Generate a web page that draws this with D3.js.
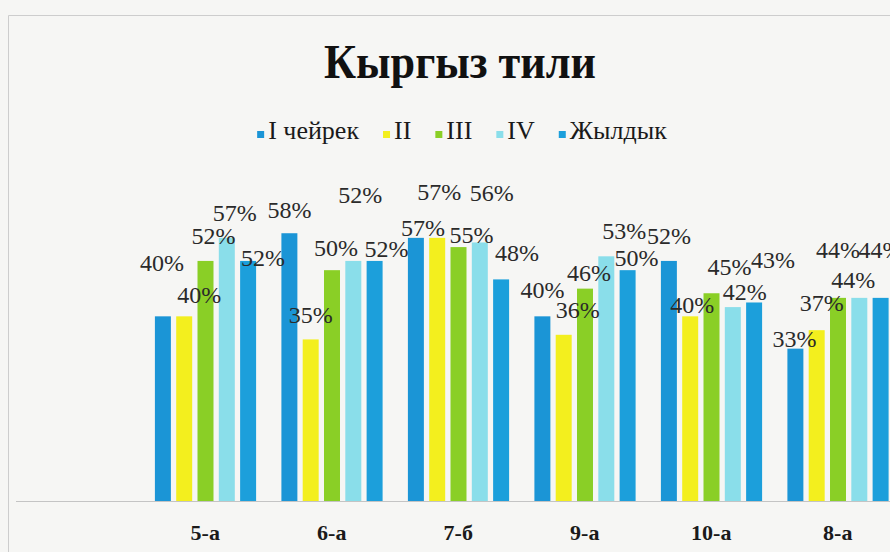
<!DOCTYPE html>
<html>
<head>
<meta charset="utf-8">
<script src="https://cdn.jsdelivr.net/npm/d3@7"></script>
<style>
  html, body { margin: 0; padding: 0; background: #f6f6f4; overflow: hidden; }
  svg { display: block; }
  text { font-family: "Liberation Serif", "DejaVu Serif", serif; }
</style>
</head>
<body>
<svg id="chart" width="890" height="552"></svg>
<script>
// Class groups and quarterly results (percent)
const categories = ["5-а", "6-а", "7-б", "9-а", "10-а", "8-а"];
const seriesNames = ["I чейрек", "II", "III", "IV", "Жылдык"];
const quarterI   = [40, 58, 57, 40, 52, 33];
const quarterII  = [40, 35, 57, 36, 40, 37];
const quarterIII = [52, 50, 55, 46, 45, 44];
const quarterIV  = [57, 52, 56, 53, 42, 44];
const annual     = [52, 52, 48, 50, 43, 44];
const seriesValues = [quarterI, quarterII, quarterIII, quarterIV, annual];

const colors = ["#1b95d6", "#f3ef1e", "#8acf26", "#8adeea", "#1c9fdb"];
const serif = "'Liberation Serif', 'DejaVu Serif', serif";

// Hand-placed data label nudges [dx, dy] from the top-centre of each bar
const labelNudge = [
  [[-1, -53], [0, -23], [7, -10], [0, -26], [0, -25], [-1, -10]],
  [[15, -21], [0, -24], [2, -46], [14, -25], [2, -11], [5, -27]],
  [[8, -25], [4, -22], [13, -12], [4, -16], [18, -26], [0, -48]],
  [[8, -25], [7, -66], [12, -49], [18, -25], [12, -15], [-6, -18]],
  [[15, -3], [12, -12], [16, -26], [9, -12], [19, -42], [0, -48]]
];

const svg = d3.select("#chart");
const W = 890, H = 552;
const baseY = 501;

// outer frame
svg.append("path")
  .attr("d", `M8.5,${H} V15.5 H${W}`)
  .attr("fill", "none")
  .attr("stroke", "#cdcdcd")
  .attr("stroke-width", 1);

// title
svg.append("text")
  .attr("x", 460).attr("y", 78)
  .attr("text-anchor", "middle")
  .style("font-family", serif)
  .attr("font-weight", "bold")
  .attr("font-size", 48)
  .attr("textLength", 272)
  .attr("lengthAdjust", "spacingAndGlyphs")
  .attr("fill", "#111")
  .text("Кыргыз тили");

// scales: leading empty slot before the first class
const x0 = d3.scaleBand()
  .domain(["", ...categories])
  .range([15.5, 901])
  .paddingInner(0).paddingOuter(0);

const x1 = d3.scaleBand()
  .domain(seriesNames)
  .range([12.9, 114.1])
  .paddingInner(0.25).paddingOuter(0);

const y = d3.scaleLinear().domain([0, 60]).range([baseY, 224]);

// category axis
const axis = svg.append("g")
  .attr("transform", `translate(0,${baseY})`)
  .call(d3.axisBottom(x0).tickSize(0).tickPadding(23));
axis.select(".domain").attr("stroke", "#c4c4c4").attr("stroke-width", 1);
axis.selectAll("text")
  .style("font-family", serif)
  .attr("font-weight", "bold")
  .attr("font-size", 22)
  .attr("fill", "#1a1a1a");

// bars
const barData = [];
seriesValues.forEach((vals, si) => {
  vals.forEach((v, ci) => {
    barData.push({ s: si, c: ci, v: v });
  });
});

svg.append("g").selectAll("rect")
  .data(barData)
  .join("rect")
  .attr("x", d => x0(categories[d.c]) + x1(seriesNames[d.s]))
  .attr("y", d => y(d.v))
  .attr("width", x1.bandwidth())
  .attr("height", d => baseY - y(d.v))
  .attr("fill", d => colors[d.s]);

// data labels
svg.append("g").selectAll("text")
  .data(barData)
  .join("text")
  .attr("x", d => x0(categories[d.c]) + x1(seriesNames[d.s]) + x1.bandwidth() / 2 + labelNudge[d.s][d.c][0])
  .attr("y", d => y(d.v) + labelNudge[d.s][d.c][1] + 8)
  .attr("text-anchor", "middle")
  .style("font-family", serif)
  .attr("font-size", 24)
  .attr("fill", "#2a2a2a")
  .text(d => d.v + "%");

// legend
const legend = svg.append("g");
let lx = 0;
seriesNames.forEach((name, i) => {
  const item = legend.append("g").attr("transform", `translate(${lx},0)`);
  item.append("rect")
    .attr("x", 0).attr("y", 131)
    .attr("width", 7).attr("height", 7)
    .attr("fill", colors[i]);
  const t = item.append("text")
    .attr("x", 11).attr("y", 139)
    .style("font-family", serif)
    .attr("font-size", 26)
    .attr("fill", "#1a1a1a")
    .text(name);
  lx += 11 + t.node().getComputedTextLength() + 24;
});
const legendWidth = lx - 24;
legend.attr("transform", `translate(${462 - legendWidth / 2},0)`);
</script>
</body>
</html>
